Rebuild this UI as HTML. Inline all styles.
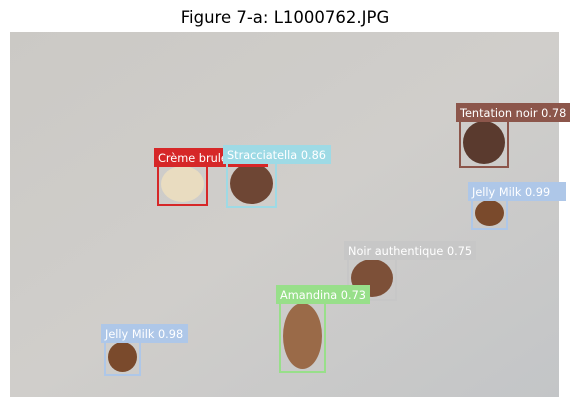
<!DOCTYPE html>
<html><head><meta charset="utf-8"><style>
body{margin:0;background:#fff;width:575px;height:407px;overflow:hidden;font-family:"DejaVu Sans","Liberation Sans",sans-serif}
</style></head><body>
<svg width="575" height="407">
<defs>
<linearGradient id="bg" x1="0" y1="0" x2="1" y2="1">
<stop offset="0" stop-color="#cbc9c5"/><stop offset="0.5" stop-color="#d0cecb"/><stop offset="1" stop-color="#c3c5c7"/>
</linearGradient>
</defs>
<text x="285" y="23" text-anchor="middle" font-size="16.5" fill="#000">Figure 7-a: L1000762.JPG</text>
<rect x="10" y="32" width="549" height="365" fill="url(#bg)"/>
<g id="dets"></g>
</svg>
<script>
const labels=["Crème brulee","Stracciatella 0.86","Tentation noir 0.78","Jelly Milk 0.99","Noir authentique 0.75","Amandina 0.73","Jelly Milk 0.98"];
const x0=[158,227,460,472,348,280,105];
const y0=[163,160,118,197,256,300,339];
const x1=[207,276,508,507,396,325,140];
const y1=[205,207,167,229,300,372,375];
const colors=["#d62728","#9edae5","#8c564b","#aec7e8","#c7c7c7","#98df8a","#aec7e8"];
const fills=["#e9dcc0","#6e4634","#5a3a2e","#7a4a2c","#7d5038","#9a6a48","#7a4a2c"];
const labW=[114,108,114,98,132,94,87];
const g=document.getElementById('dets');
const NS='http://www.w3.org/2000/svg';
for(let i=0;i<labels.length;i++){
  const e=document.createElementNS(NS,'ellipse');
  e.setAttribute('cx',(x0[i]+x1[i])/2);e.setAttribute('cy',(y0[i]+y1[i])/2);
  e.setAttribute('rx',(x1[i]-x0[i])/2-3);e.setAttribute('ry',(y1[i]-y0[i])/2-3);
  e.setAttribute('fill',fills[i]);
  
  
  g.appendChild(e);
}
for(let i=0;i<labels.length;i++){
  const r=document.createElementNS(NS,'rect');
  r.setAttribute('x',x0[i]);r.setAttribute('y',y0[i]);
  r.setAttribute('width',x1[i]-x0[i]);r.setAttribute('height',y1[i]-y0[i]);
  r.setAttribute('fill','none');r.setAttribute('stroke',colors[i]);r.setAttribute('stroke-width','2');
  
  
  g.appendChild(r);
  const b=document.createElementNS(NS,'rect');
  b.setAttribute('x',x0[i]-4);b.setAttribute('y',y0[i]-15);
  b.setAttribute('width',labW[i]);b.setAttribute('height',19);
  b.setAttribute('fill',colors[i]);
  
  
  g.appendChild(b);
  const t=document.createElementNS(NS,'text');
  t.setAttribute('x',x0[i]);t.setAttribute('y',y0[i]-1);
  t.setAttribute('font-size','11.3');t.setAttribute('fill','#fff');
  t.textContent=labels[i];
  
  
  g.appendChild(t);
}
</script>
</body></html>
